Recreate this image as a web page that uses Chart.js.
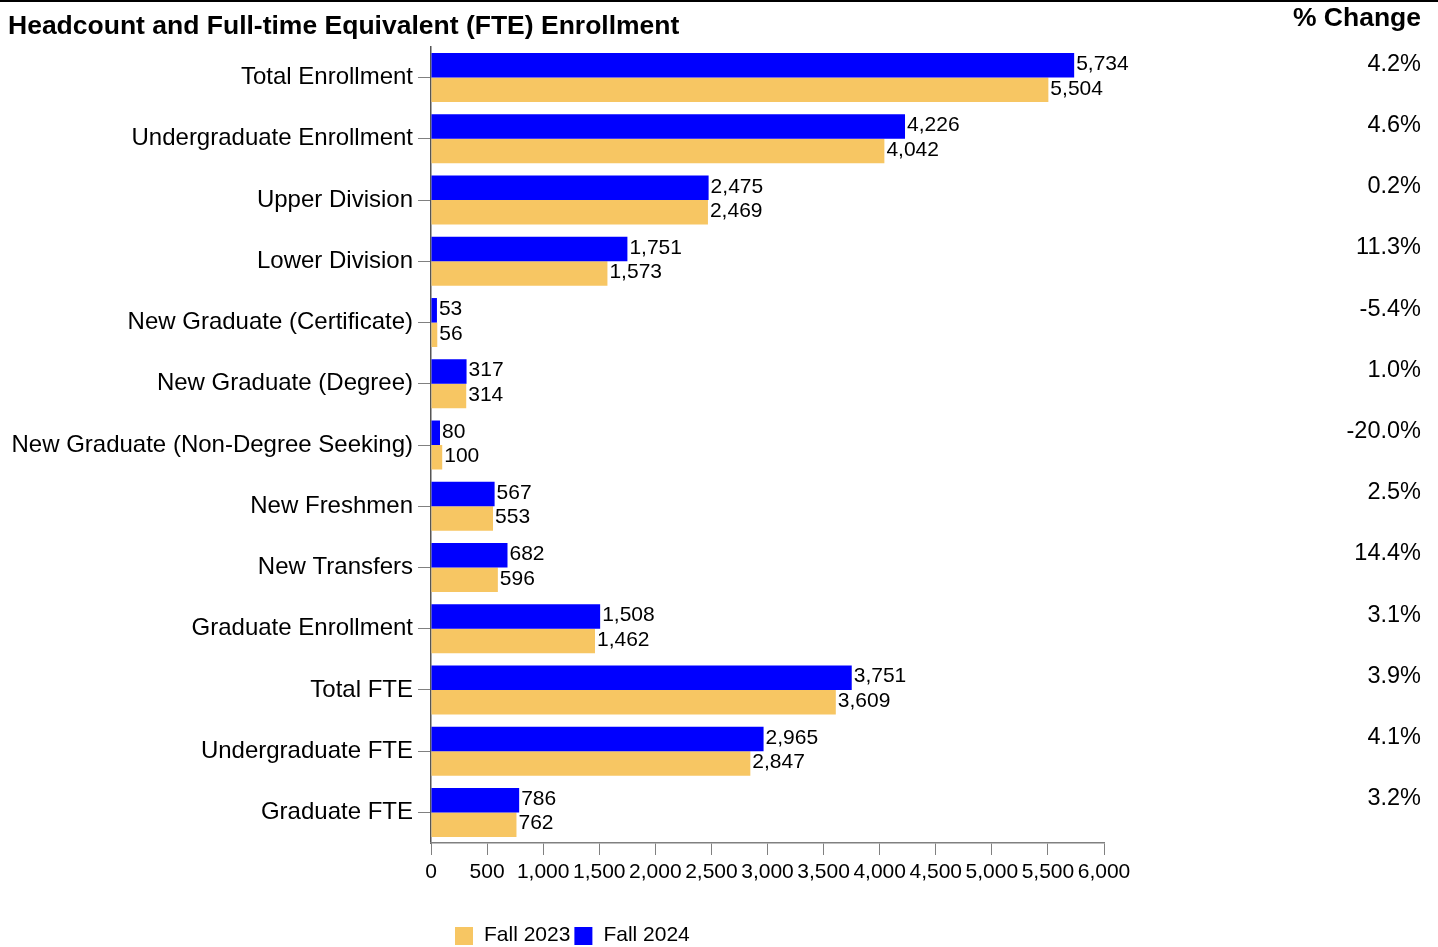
<!DOCTYPE html>
<html>
<head>
<meta charset="utf-8">
<title>Headcount and Full-time Equivalent (FTE) Enrollment</title>
<script src="https://cdn.jsdelivr.net/npm/chart.js@4.4.1/dist/chart.umd.min.js"></script>
<style>
  html, body { margin: 0; padding: 0; background: #fff; }
  #enrollChart { display: block; }
</style>
</head>
<body>
<canvas id="enrollChart" width="1438" height="947"></canvas>
<script>
// Chart data
const categories = [
    'Total Enrollment',
    'Undergraduate Enrollment',
    'Upper Division',
    'Lower Division',
    'New Graduate (Certificate)',
    'New Graduate (Degree)',
    'New Graduate (Non-Degree Seeking)',
    'New Freshmen',
    'New Transfers',
    'Graduate Enrollment',
    'Total FTE',
    'Undergraduate FTE',
    'Graduate FTE'
];
const fall2024 = [5734, 4226, 2475, 1751, 53, 317, 80, 567, 682, 1508, 3751, 2965, 786];
const fall2023 = [5504, 4042, 2469, 1573, 56, 314, 100, 553, 596, 1462, 3609, 2847, 762];
const pctChange = ['4.2%', '4.6%', '0.2%', '11.3%', '-5.4%', '1.0%', '-20.0%', '2.5%', '14.4%', '3.1%', '3.9%', '4.1%', '3.2%'];
const xMin = 0;
const xMax = 6000;
const xStep = 500;

const FONT = "'Liberation Sans', Arial, sans-serif";
const BLUE = '#0000ff';
const GOLD = '#f7c663';

// Draws title, % change column, value labels and the legend
const extrasPlugin = {
    id: 'extras',
    afterDatasetsDraw(chart) {
        const ctx = chart.ctx;
        ctx.save();
        ctx.fillStyle = '#000';
        ctx.font = '21px ' + FONT;
        ctx.textAlign = 'left';
        ctx.textBaseline = 'middle';
        chart.data.datasets.forEach((ds, di) => {
            const meta = chart.getDatasetMeta(di);
            meta.data.forEach((bar, i) => {
                ctx.fillText(ds.data[i].toLocaleString('en-US'), bar.x + 2, bar.y - 1);
            });
        });
        ctx.restore();
    },
    afterDraw(chart) {
        const ctx = chart.ctx;
        const yScale = chart.scales.y;
        ctx.save();

        // top rule
        ctx.fillStyle = '#000';
        ctx.fillRect(0, 0, chart.width, 2);

        // title
        ctx.font = 'bold 26.5px ' + FONT;
        ctx.textAlign = 'left';
        ctx.textBaseline = 'alphabetic';
        ctx.fillText('Headcount and Full-time Equivalent (FTE) Enrollment', 8, 34);

        // % change header and values
        ctx.textAlign = 'right';
        ctx.fillText('% Change', 1421, 26);
        ctx.font = '23.5px ' + FONT;
        pctChange.forEach((p, i) => {
            ctx.fillText(p, 1421, yScale.getPixelForValue(i) - 7);
        });

        // legend (Fall 2023 first)
        const items = chart.data.datasets.slice().reverse();
        let x = 455;
        ctx.font = '21px ' + FONT;
        ctx.textAlign = 'left';
        ctx.textBaseline = 'middle';
        items.forEach(ds => {
            ctx.fillStyle = ds.backgroundColor;
            ctx.fillRect(x, 927, 18, 18);
            ctx.fillStyle = '#000';
            ctx.fillText(ds.label, x + 29, 935);
            x += 29 + ctx.measureText(ds.label).width + 4;
        });
        ctx.restore();
    }
};

const ctx = document.getElementById('enrollChart').getContext('2d');
const enrollChart = new Chart(ctx, {
    type: 'bar',
    data: {
        labels: categories,
        datasets: [{
            label: 'Fall 2024',
            data: fall2024,
            backgroundColor: BLUE
        }, {
            label: 'Fall 2023',
            data: fall2023,
            backgroundColor: GOLD
        }]
    },
    options: {
        indexAxis: 'y',
        responsive: false,
        animation: false,
        categoryPercentage: 0.8,
        barPercentage: 1.0,
        layout: {
            padding: { top: 47, right: 334, bottom: 0, left: 0 }
        },
        plugins: {
            legend: { display: false },
            title: { display: false },
            tooltip: { enabled: false }
        },
        scales: {
            y: {
                afterFit(scale) { scale.width = 431; },
                grid: {
                    offset: false,
                    drawOnChartArea: false,
                    drawTicks: true,
                    tickLength: 13,
                    color: '#808080'
                },
                border: { display: true, color: '#555', width: 1.5 },
                ticks: {
                    color: '#000',
                    padding: 5,
                    autoSkip: false,
                    font: { family: FONT, size: 24 }
                }
            },
            x: {
                min: xMin,
                max: xMax,
                afterFit(scale) { scale.height = 104; },
                grid: {
                    drawOnChartArea: false,
                    drawTicks: true,
                    tickLength: 12,
                    color: '#808080'
                },
                border: { display: true, color: '#808080', width: 1.5 },
                ticks: {
                    stepSize: xStep,
                    color: '#000',
                    padding: 5,
                    autoSkip: false,
                    maxRotation: 0,
                    font: { family: FONT, size: 21 },
                    callback: v => v.toLocaleString('en-US')
                }
            }
        }
    },
    plugins: [extrasPlugin]
});
</script>
</body>
</html>
